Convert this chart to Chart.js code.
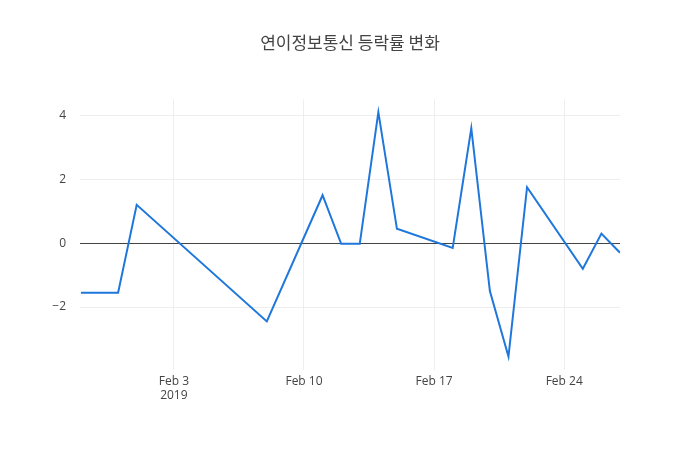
<!DOCTYPE html>
<html>
<head>
<meta charset="utf-8">
<script src="https://cdn.jsdelivr.net/npm/chart.js@4"></script>
<style>
  body { margin: 0; background: #fff; }
  #wrap { width: 700px; height: 450px; }
</style>
</head>
<body>
<div id="wrap"><canvas id="c"></canvas></div>
<script>
// days counted from Feb 3, 2019
const days = [-5, -3, -2, 5, 8, 9, 10, 11, 12, 15, 16, 17, 18, 19, 22, 23, 24];
const rates = [-1.55, -1.55, 1.2, -2.45, 1.5, -0.02, -0.02, 4.1, 0.45, -0.15, 3.6, -1.5, -3.55, 1.75, -0.8, 0.3, -0.3];
const tickDays = [0, 7, 14, 21];
const tickLabels = [["Feb 3", "2019"], "Feb 10", "Feb 17", "Feb 24"];

const font = { family: "'Open Sans', sans-serif", size: 12 };

new Chart(document.getElementById('c'), {
    type: 'line',
    data: {
        datasets: [{
            data: days.map((d, i) => ({ x: d, y: rates[i] })),
            borderColor: 'rgb(31,119,220)',
            borderWidth: 2,
            pointRadius: 0,
            tension: 0
        }]
    },
    options: {
        responsive: true,
        maintainAspectRatio: false,
        animation: false,
        plugins: {
            legend: { display: false },
            tooltip: { enabled: false },
            title: {
                display: true,
                text: '연이정보통신 등락률 변화',
                color: '#444',
                font: { family: "'Noto Sans CJK KR', sans-serif", size: 17, weight: 'normal' },
                padding: { top: 32, bottom: 47 }
            }
        },
        scales: {
            x: {
                type: 'linear',
                min: -5.05,
                max: 24,
                afterBuildTicks: s => { s.ticks = tickDays.map(v => ({ value: v })); },
                afterFit: s => { s.height = 80; },
                ticks: {
                    color: '#444', font: font, maxRotation: 0, padding: 4,
                    callback: (v) => tickLabels[tickDays.indexOf(v)]
                },
                grid: { color: '#eee', drawTicks: false },
                border: { display: false }
            },
            y: {
                min: -3.97,
                max: 4.5,
                afterBuildTicks: s => { s.ticks = [-2, 0, 2, 4].map(v => ({ value: v })); },
                afterFit: s => { s.width = 80; },
                ticks: {
                    color: '#444', font: font, padding: 14,
                    callback: v => v < 0 ? '\u2212' + Math.abs(v) : String(v)
                },
                grid: {
                    color: c => c.tick && c.tick.value === 0 ? '#444' : '#eee',
                    drawTicks: false
                },
                border: { display: false }
            },
            yRight: {
                position: 'right',
                min: -3.97,
                max: 4.5,
                afterFit: s => { s.width = 80; },
                ticks: { display: false },
                grid: { display: false },
                border: { display: false }
            }
        }
    }
});
</script>
</body>
</html>
